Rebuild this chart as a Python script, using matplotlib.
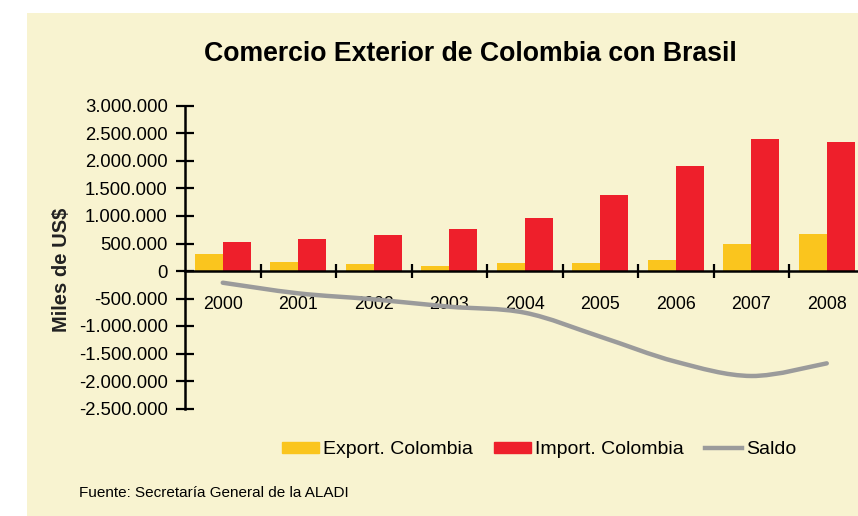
import numpy as np
import matplotlib
matplotlib.use("Agg")
import matplotlib.pyplot as plt
from matplotlib.path import Path
from matplotlib.patches import PathPatch, Rectangle
from matplotlib.lines import Line2D
from matplotlib.ticker import FuncFormatter

# datos (miles de US$)
anios = ['2000', '2001', '2002', '2003', '2004', '2005', '2006', '2007', '2008']
export_col = [304000, 171000, 122000, 98000, 145000, 145000, 195000, 485000, 667000]
import_col = [535000, 582000, 662000, 771000, 971000, 1382000, 1904000, 2395000, 2345000]
saldo = [-213000, -406000, -515000, -649000, -758000, -1194000, -1649000, -1909000, -1679000]

amarillo = '#FAC51E'
rojo = '#EE1F2B'
gris = '#9B9B9B'
fondo = '#F8F3D0'

plt.rcParams['font.family'] = ['Liberation Sans', 'DejaVu Sans']

fig = plt.figure(figsize=(8.58, 5.16), dpi=100)
fig.patch.set_facecolor('white')
fig.patches.append(Rectangle((27/858, 0), 1, (516-13)/516, transform=fig.transFigure,
                             facecolor=fondo, edgecolor='none', zorder=-10))

ax = fig.add_axes([185/858, (516-408.5)/516, 679.5/858, (408.5-106)/516])
ax.set_facecolor('none')
ax.set_zorder(1)

x = np.arange(len(anios))
w = 0.37
ax.bar(x - w/2, export_col, w, color=amarillo, zorder=2)
ax.bar(x + w/2, import_col, w, color=rojo, zorder=2)

# linea suavizada (curva bezier por los puntos)
pts = np.column_stack([x, saldo]).astype(float)
verts = [pts[0]]
codes = [Path.MOVETO]
n = len(pts)
for i in range(n - 1):
    p0 = pts[max(i-1, 0)]
    p1 = pts[i]
    p2 = pts[i+1]
    p3 = pts[min(i+2, n-1)]
    verts += [p1 + (p2 - p0)/6, p2 - (p3 - p1)/6, p2]
    codes += [Path.CURVE4]*3
ax.add_patch(PathPatch(Path(verts, codes), facecolor='none', edgecolor=gris,
                       lw=3.2, capstyle='round', zorder=3))

ax.set_xlim(-0.5, 8.5)
ax.set_ylim(-2500000, 3000000)
ax.set_yticks(np.arange(-2500000, 3000001, 500000))
ax.yaxis.set_major_formatter(FuncFormatter(lambda v, p: '{:,.0f}'.format(v).replace(',', '.')))
ax.tick_params(axis='y', direction='inout', length=13, width=1.6, labelsize=13.3, pad=6)

ax.spines['bottom'].set_position(('data', 0))
for s in ['top', 'right']:
    ax.spines[s].set_visible(False)
for s in ['left', 'bottom']:
    ax.spines[s].set_linewidth(1.8)
    ax.spines[s].set_zorder(4)
ax.set_xticks(x[:-1] + 0.5)
ax.set_xticklabels([])
ax.set_xticks(x, minor=True)
ax.set_xticklabels(anios, minor=True)
ax.tick_params(axis='x', which='major', direction='inout', length=10, width=1.6)
ax.tick_params(axis='x', which='minor', length=0, labelsize=12.8, pad=18)

fig.text(62/858, 1 - 270/516, 'Miles de US$', rotation=90, fontsize=14.5,
         fontweight='bold', ha='center', va='center', color='#222222')
fig.text(470/858, 1 - 54/516, 'Comercio Exterior de Colombia con Brasil',
         fontsize=19.2, fontweight='bold', ha='center', va='center')

handles = [Rectangle((0, 0), 1, 1, color=amarillo), Rectangle((0, 0), 1, 1, color=rojo),
           Line2D([], [], color=gris, lw=3.2)]
fig.legend(handles, ['Export. Colombia', 'Import. Colombia', 'Saldo'], ncol=3,
           loc='center', bbox_to_anchor=(539/858, 1 - 450/516), frameon=False,
           fontsize=14, handlelength=1.9, handleheight=0.55, handletextpad=0.2,
           columnspacing=1.1)

fig.text(79/858, 1 - 493/516, 'Fuente: Secretaría General de la ALADI', fontsize=11,
         ha='left', va='center')

fig.savefig('out.png', dpi=100)
